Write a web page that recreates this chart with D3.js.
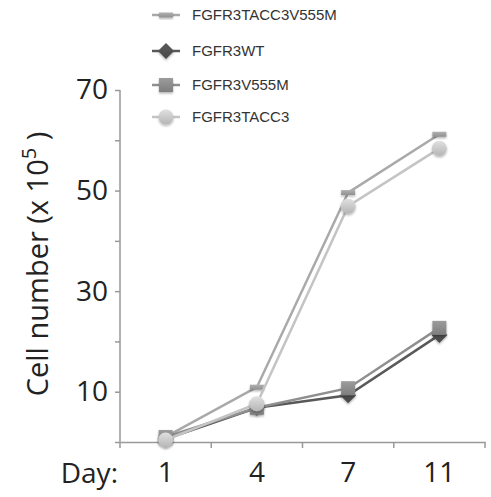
<!DOCTYPE html>
<html>
<head>
<meta charset="utf-8">
<script src="https://cdn.jsdelivr.net/npm/d3@7"></script>
<style>
  body { margin: 0; background: #fff; }
  .axis path, .axis line { stroke: #999; stroke-width: 1.5; }
  .axis text { font-family: "Open Sans", sans-serif; font-size: 28px; fill: #222; }
</style>
</head>
<body>
<div id="chart"></div>
<script>
// data
var days = ["1", "4", "7", "11"];
var tacc3V555M = [1.0, 10.9, 49.6, 61.2];
var wt = [0.6, 6.8, 9.3, 21.3];
var v555M = [1.0, 6.8, 10.7, 22.7];
var tacc3 = [0.4, 7.6, 46.9, 58.4];
var yTicks = [0, 10, 20, 30, 40, 50, 60, 70];
var yLabels = [10, 30, 50, 70];

var series = [
    { name: "FGFR3TACC3V555M", values: tacc3V555M, line: "#a9a9a9", fill: "#9c9c9c", shape: "dash" },
    { name: "FGFR3WT", values: wt, line: "#595959", fill: "#4f4f4f", shape: "diamond" },
    { name: "FGFR3V555M", values: v555M, line: "#8f8f8f", fill: "#8a8a8a", shape: "square" },
    { name: "FGFR3TACC3", values: tacc3, line: "#c4c4c4", fill: "#c6c6c6", shape: "circle" }
];

var svgWidth = 491, svgHeight = 497;
var margin = { top: 90, right: 6, bottom: 55, left: 120 };
var width = svgWidth - margin.left - margin.right;
var height = svgHeight - margin.top - margin.bottom;

var svg = d3.select("#chart").append("svg")
    .attr("width", svgWidth)
    .attr("height", svgHeight);

var defs = svg.append("defs");
var shadow = defs.append("filter").attr("id", "shadow")
    .attr("x", "-50%").attr("y", "-50%").attr("width", "200%").attr("height", "200%");
shadow.append("feDropShadow")
    .attr("dx", 0).attr("dy", 1.5).attr("stdDeviation", 1.2)
    .attr("flood-color", "#000").attr("flood-opacity", 0.3);

series.forEach(function(s, i) {
    var g = defs.append("linearGradient").attr("id", "grad" + i)
        .attr("x1", 0).attr("y1", 0).attr("x2", 0).attr("y2", 1);
    g.append("stop").attr("offset", "0%").attr("stop-color", d3.color(s.fill).brighter(0.35));
    g.append("stop").attr("offset", "100%").attr("stop-color", d3.color(s.fill).darker(0.25));
});

var chart = svg.append("g")
    .attr("transform", "translate(" + margin.left + "," + margin.top + ")");

var x = d3.scaleBand().domain(days).range([0, width]).padding(0);
var y = d3.scaleLinear().domain([0, 70]).range([height, 0]);

// y axis
var yAxis = d3.axisLeft(y)
    .tickValues(yTicks)
    .tickSize(5)
    .tickPadding(7)
    .tickFormat(function(d) { return yLabels.indexOf(d) >= 0 ? d : ""; });

chart.append("g")
    .attr("class", "axis y-axis")
    .call(yAxis)
    .select(".domain").attr("d", "M0," + y(70) + "V" + height);

// x axis, labels at band centres, ticks at band edges
var xAxis = d3.axisBottom(x)
    .tickSizeInner(0)
    .tickSizeOuter(0)
    .tickPadding(20);

var xAxisGroup = chart.append("g")
    .attr("class", "axis x-axis")
    .attr("transform", "translate(0," + height + ")")
    .call(xAxis);

xAxisGroup.selectAll(".edge")
    .data(days.concat(["end"]))
    .enter().append("line")
    .attr("class", "edge")
    .attr("x1", function(d) { return d === "end" ? width : x(d); })
    .attr("x2", function(d) { return d === "end" ? width : x(d); })
    .attr("y1", 0)
    .attr("y2", 6);

xAxisGroup.append("text")
    .attr("x", -2)
    .attr("y", 41)
    .attr("text-anchor", "end")
    .attr("fill", "#222")
    .text("Day:");

// y axis title
var yTitle = svg.append("text")
    .attr("transform", "translate(48," + 264 + ") rotate(-90)")
    .attr("text-anchor", "middle")
    .attr("font-family", "Open Sans, sans-serif")
    .attr("font-size", "29px")
    .attr("fill", "#222");
yTitle.append("tspan").text("Cell number (x 10");
yTitle.append("tspan").attr("font-size", "20px").attr("dy", -12).text("5");
yTitle.append("tspan").attr("dy", 12).text("\u00a0)");

// markers
function drawMarker(sel, s, i, size) {
    var fill = "url(#grad" + i + ")";
    if (s.shape === "circle") {
        sel.append("circle").attr("r", size / 2 + 0.5).attr("fill", fill);
    } else if (s.shape === "square") {
        sel.append("rect")
            .attr("x", -size / 2).attr("y", -size / 2)
            .attr("width", size).attr("height", size)
            .attr("fill", fill);
    } else if (s.shape === "diamond") {
        var h = size / 2 + 1;
        sel.append("path")
            .attr("d", "M0," + (-h) + "L" + h + ",0L0," + h + "L" + (-h) + ",0Z")
            .attr("fill", fill);
    } else {
        sel.append("rect")
            .attr("x", -size / 2).attr("y", -2.5)
            .attr("width", size).attr("height", 5)
            .attr("fill", fill);
    }
}

var line = d3.line()
    .x(function(d, i) { return x(days[i]) + x.bandwidth() / 2; })
    .y(function(d) { return y(d); });

series.forEach(function(s, i) {
    var g = chart.append("g").attr("class", "series");
    g.append("path")
        .datum(s.values)
        .attr("fill", "none")
        .attr("stroke", s.line)
        .attr("stroke-width", 2.5)
        .attr("d", line);
    g.selectAll(".pt")
        .data(s.values)
        .enter().append("g")
        .attr("class", "pt")
        .attr("filter", "url(#shadow)")
        .attr("transform", function(d, j) {
            return "translate(" + (x(days[j]) + x.bandwidth() / 2) + "," + y(d) + ")";
        })
        .each(function() { drawMarker(d3.select(this), s, i, 14); });
});

// legend
var legendY = [15, 51, 85, 117];
var legend = svg.append("g").attr("class", "legend");
series.forEach(function(s, i) {
    var row = legend.append("g")
        .attr("transform", "translate(166," + legendY[i] + ")");
    row.append("line")
        .attr("x1", -14).attr("x2", 14)
        .attr("stroke", s.line)
        .attr("stroke-width", 2.5);
    var m = row.append("g").attr("filter", "url(#shadow)");
    drawMarker(m, s, i, 14);
    row.append("text")
        .attr("x", 26)
        .attr("dy", "0.35em")
        .attr("font-family", "Liberation Sans, Arial, sans-serif")
        .attr("font-size", "15px")
        .attr("fill", "#333")
        .text(s.name);
});
</script>
</body>
</html>
